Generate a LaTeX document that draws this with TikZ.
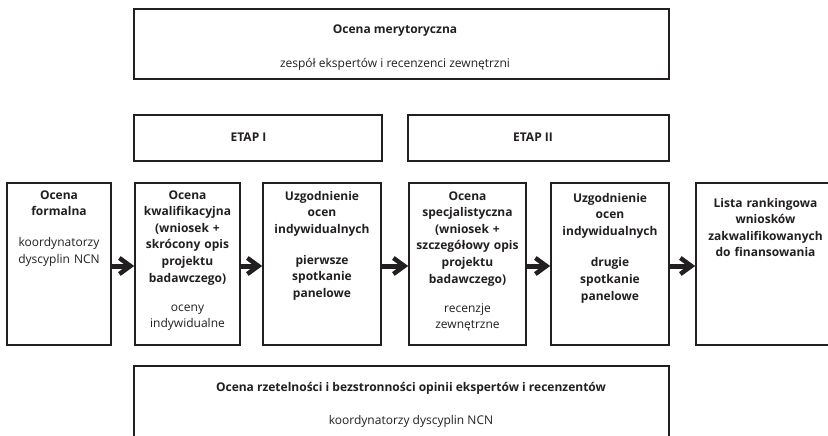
\documentclass[tikz,border=0pt]{standalone}
\usepackage{fontspec}
\setmainfont{Open Sans}
\usetikzlibrary{arrows.meta}
\definecolor{ink}{HTML}{231F20}
\begin{document}
\begin{tikzpicture}[x=1pt,y=-1pt,
  box/.style={draw=ink, line width=1.6pt, rectangle, inner sep=0pt},
  txt/.style={font=\fontsize{12}{16.6}\selectfont, align=center, inner sep=0pt, anchor=base, text=ink},
  mtxt/.style={txt, text width=130pt},
  flow/.style={draw=ink, line width=5pt, -{Straight Barb[length=11pt,width=16pt,line width=4.5pt]}}
]
\clip (0,0) rectangle (828,436);
\fill[white] (0,0) rectangle (828,436);

% top boxes
\node[box, minimum width=535pt, minimum height=70pt] (mer) at (401.5,44) {};
\node[txt] (mert) at (395,34) {\bfseries Ocena merytoryczna};
\node[txt] (mers) at (395,67) {zespół ekspertów i recenzenci zewnętrzni};

\node[box, minimum width=248pt, minimum height=46pt] (e1) at (258,138) {};
\node[txt] (e1t) at (248.5,141) {\bfseries ETAP I};
\node[box, minimum width=261pt, minimum height=46pt] (e2) at (538.5,138) {};
\node[txt] (e2t) at (533,141) {\bfseries ETAP II};

% row of steps
\node[box, minimum width=104pt, minimum height=162pt] (b1) at (59,264) {};
\node[box, minimum width=105pt, minimum height=162pt] (b2) at (187.5,264) {};
\node[box, minimum width=118pt, minimum height=162pt] (b3) at (322,264) {};
\node[box, minimum width=117pt, minimum height=162pt] (b4) at (467.5,264) {};
\node[box, minimum width=118pt, minimum height=162pt] (b5) at (610,264) {};
\node[box, minimum width=139pt, minimum height=162pt] (b6) at (765.5,264) {};

\node[mtxt] (t1) at (59,199) {\bfseries Ocena\\formalna\\[14.5pt]\mdseries koordynatorzy\\dyscyplin NCN};
\node[mtxt] (t2) at (187.5,199) {\bfseries Ocena\\kwalifikacyjna\\(wniosek +\\skrócony opis\\projektu\\badawczego)\\[12.5pt]\mdseries oceny\\indywidualne};
\node[mtxt] (t3) at (322,200) {\bfseries Uzgodnienie\\ocen\\indywidualnych\\[14.5pt]pierwsze\\spotkanie\\panelowe};
\node[mtxt] (t4) at (467.5,200) {\bfseries Ocena\\specjalistyczna\\(wniosek +\\szczegółowy opis\\projektu\\badawczego)\\[12.5pt]\mdseries recenzje\\zewnętrzne};
\node[mtxt] (t5) at (610,202) {\bfseries Uzgodnienie\\ocen\\indywidualnych\\[15pt]drugie\\spotkanie\\panelowe};
\node[mtxt] (t6) at (765.5,207) {\bfseries Lista rankingowa\\wniosków\\zakwalifikowanych\\do finansowania};

\draw[flow] ([yshift=-2pt]b1.east) -- ([yshift=-2pt]b2.west);
\draw[flow] ([yshift=-2pt]b2.east) -- ([yshift=-2pt]b3.west);
\draw[flow] ([yshift=-2pt]b3.east) -- ([yshift=-2pt]b4.west);
\draw[flow] ([yshift=-2pt]b4.east) -- ([yshift=-2pt]b5.west);
\draw[flow] ([yshift=-2pt]b5.east) -- ([yshift=-2pt]b6.west);

% bottom box
\node[box, minimum width=535pt, minimum height=94pt] (rz) at (401.5,413) {};
\node[txt] (rzt) at (411,391) {\bfseries Ocena rzetelności i bezstronności opinii ekspertów i recenzentów};
\node[txt] (rzs) at (411,424) {koordynatorzy dyscyplin NCN};
\end{tikzpicture}
\end{document}
